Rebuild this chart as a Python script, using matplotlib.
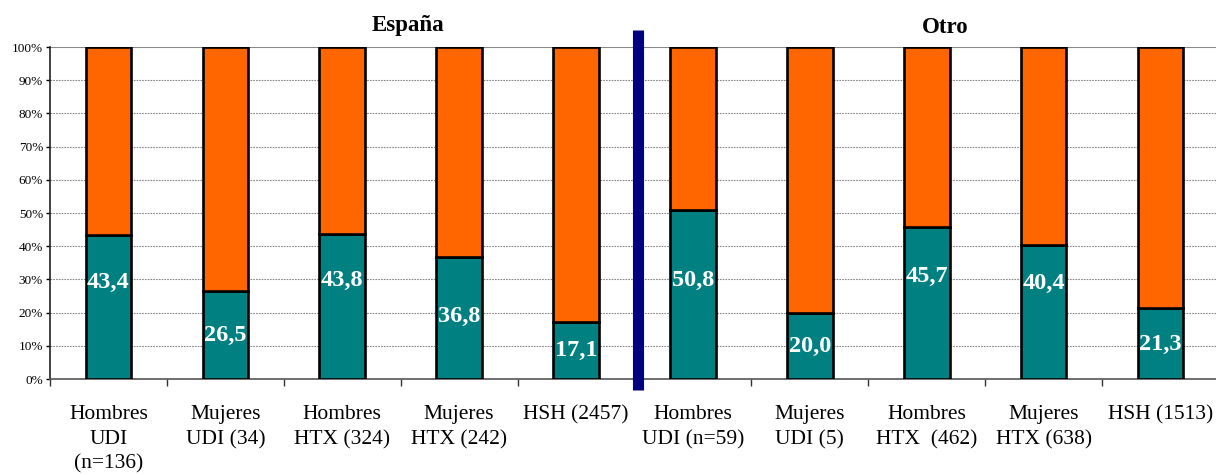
import matplotlib
matplotlib.use('Agg')
import matplotlib.pyplot as plt
import numpy as np

plt.rcParams['font.family'] = ['Liberation Serif', 'DejaVu Serif']

# Group labels (España: first five, Otro: last five)
categories = [
    'Hombres\nUDI\n(n=136)', 'Mujeres\nUDI (34)', 'Hombres\nHTX (324)',
    'Mujeres\nHTX (242)', 'HSH (2457)',
    'Hombres\nUDI (n=59)', 'Mujeres\nUDI (5)', 'Hombres\nHTX  (462)',
    'Mujeres\nHTX (638)', 'HSH (1513)',
]
lower_pct = [43.4, 26.5, 43.8, 36.8, 17.1, 50.8, 20.0, 45.7, 40.4, 21.3]
upper_pct = [100 - v for v in lower_pct]
y_ticks = [0, 10, 20, 30, 40, 50, 60, 70, 80, 90, 100]

# where each value label sits inside its bar (percent height)
label_y = [29.2, 13.0, 29.8, 18.7, 8.7, 29.8, 9.9, 31.0, 28.9, 10.5]

teal = '#008080'
orange = '#FF6600'
navy = '#000080'

fig = plt.figure(figsize=(12.16, 4.75), dpi=100)
ax = fig.add_axes([50 / 1216, 96 / 475, 1169 / 1216, 332 / 475])

x = np.arange(len(categories))
w = 0.39
ax.bar(x, lower_pct, w, color=teal, edgecolor='black', linewidth=1.9, zorder=3)
ax.bar(x, upper_pct, w, bottom=lower_pct, color=orange, edgecolor='black',
       linewidth=1.9, zorder=3)

for xi, v, ly in zip(x, lower_pct, label_y):
    ax.text(xi, ly, f'{v:.1f}'.replace('.', ','), ha='center', va='center',
            color='white', fontsize=17.5, fontweight='bold', zorder=4)

ax.set_xlim(-0.5, len(categories) - 0.5)
ax.set_ylim(0, 100)

# dotted gridlines, solid line along the top
for t in y_ticks[1:-1]:
    ax.axhline(t, color='#888888', linestyle=(0, (1.5, 1)), linewidth=0.8, zorder=1)
ax.axhline(100, color='#888888', linewidth=1.5, zorder=1)

ax.set_yticks(y_ticks)
ax.set_yticklabels([f'{t}%' for t in y_ticks], fontsize=9.5)
ax.tick_params(axis='y', direction='out', length=3, width=1, pad=2)

ax.set_xticks(x)
ax.set_xticklabels(categories, fontsize=15.5, linespacing=1.38)
ax.tick_params(axis='x', which='major', length=0, pad=19)
ax.set_xticks(np.arange(-0.5, len(categories)), minor=True)
ax.tick_params(axis='x', which='minor', direction='out', length=5, width=1,
               color='#333333')

for s in ['top', 'right']:
    ax.spines[s].set_visible(False)
ax.spines['left'].set_color('#222222')
ax.spines['left'].set_linewidth(1.2)
ax.spines['bottom'].set_color('#555555')
ax.spines['bottom'].set_linewidth(1.2)

# separator between the two groups
ax.plot([4.53, 4.53], [-3.3, 105.1], color=navy, linewidth=8,
        solid_capstyle='butt', clip_on=False, zorder=5)

ax.text(2.56, 1.066, 'España', transform=ax.get_xaxis_transform(),
        ha='center', va='center', fontsize=16.5, fontweight='bold',
        bbox=dict(facecolor='white', edgecolor='none', pad=2), zorder=2)
ax.text(7.16, 1.06, 'Otro', transform=ax.get_xaxis_transform(),
        ha='center', va='center', fontsize=16.5, fontweight='bold')

plt.savefig('out.png', dpi=100, facecolor='white')
plt.close()
